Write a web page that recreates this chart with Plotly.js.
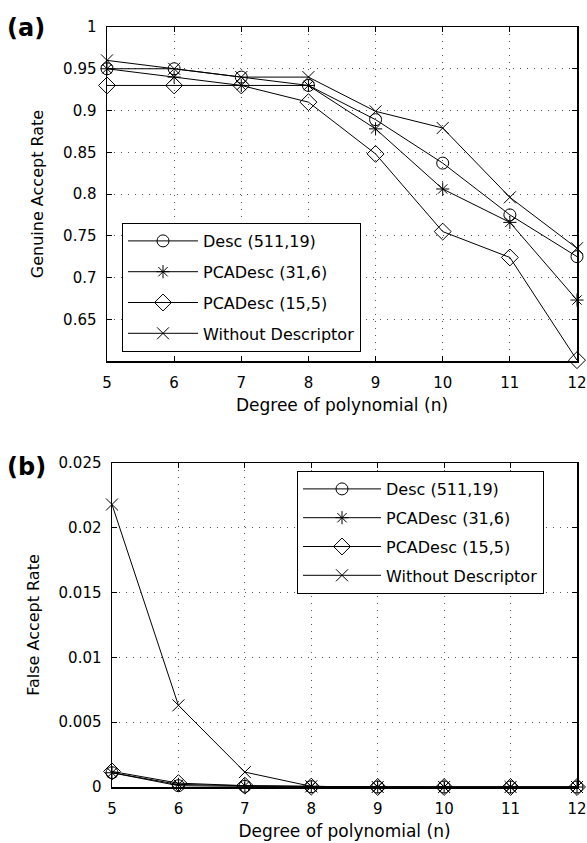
<!DOCTYPE html>
<html>
<head>
<meta charset="utf-8">
<script src="https://cdn.plot.ly/plotly-3.0.1.min.js"></script>
<style>html,body{margin:0;padding:0;background:#fff;}#chart{width:587px;height:843px;}</style>
</head>
<body>
<div id="chart"></div>
<script>
// ---- data ----
const degrees = [5, 6, 7, 8, 9, 10, 11, 12];
const seriesNames = ['Desc (511,19)', 'PCADesc (31,6)', 'PCADesc (15,5)', 'Without Descriptor'];

const garDesc    = [0.950, 0.950, 0.940, 0.930, 0.889, 0.837, 0.775, 0.725];
const garPCA31   = [0.950, 0.940, 0.930, 0.930, 0.878, 0.806, 0.766, 0.673];
const garPCA15   = [0.930, 0.930, 0.930, 0.910, 0.848, 0.755, 0.724, 0.601];
const garNone    = [0.960, 0.950, 0.940, 0.940, 0.899, 0.879, 0.796, 0.735];

const farDesc    = [0.0011, 0.0001, 0.00005, 0.00002, 0, 0, 0, 0];
const farPCA31   = [0.0011, 0.0002, 0.0001, 0.00003, 0, 0, 0, 0];
const farPCA15   = [0.0012, 0.0003, 0.0001, 0.00003, 0, 0, 0, 0];
const farNone    = [0.0218, 0.0063, 0.00115, 0.00005, 0, 0, 0, 0];

const garTickVals = [0.65, 0.7, 0.75, 0.8, 0.85, 0.9, 0.95, 1];
const garTickText = ['0.65', '0.7', '0.75', '0.8', '0.85', '0.9', '0.95', '1'];
const farTickVals = [0, 0.005, 0.01, 0.015, 0.02, 0.025];
const farTickText = ['0', '0.005', '0.01', '0.015', '0.02', '0.025'];
const xTickVals = [5, 6, 7, 8, 9, 10, 11, 12];

// ---- styles ----
const FONT = 'DejaVu Sans, Liberation Sans, Arial, sans-serif';
const symbols = ['circle-open', 'asterisk-open', 'diamond-open', 'x-thin-open'];
const sizes = [12, 11, 13, 12];

const garSeries = [garDesc, garPCA31, garPCA15, garNone];
const farSeries = [farDesc, farPCA31, farPCA15, farNone];

const traces = [];
garSeries.forEach((ys, i) => {
  traces.push({
    x: degrees, y: ys, name: seriesNames[i], type: 'scatter', mode: 'lines+markers',
    xaxis: 'x', yaxis: 'y', legend: 'legend', legendgroup: 'a' + i, cliponaxis: false,
    line: {color: '#000', width: 1},
    marker: {symbol: symbols[i], size: sizes[i], color: '#000', line: {color: '#000', width: 1}}
  });
});
farSeries.forEach((ys, i) => {
  traces.push({
    x: degrees, y: ys, name: seriesNames[i], type: 'scatter', mode: 'lines+markers',
    xaxis: 'x2', yaxis: 'y2', legend: 'legend2', legendgroup: 'b' + i, cliponaxis: false,
    line: {color: '#000', width: 1},
    marker: {symbol: symbols[i], size: sizes[i], color: '#000', line: {color: '#000', width: 1}}
  });
});

function xAxis(domain, anchor) {
  return {
    domain: domain, anchor: anchor, range: [5, 12], tickvals: xTickVals,
    showline: true, linecolor: '#000', linewidth: 1.5, mirror: 'ticks',
    ticks: 'inside', ticklen: 5, tickcolor: '#000',
    showgrid: true, gridcolor: '#555', gridwidth: 1, griddash: '1px,6px',
    zeroline: false, automargin: false, ticklabelstandoff: 7,
    tickfont: {family: FONT, size: 15, color: '#000'},
    title: {text: 'Degree of polynomial (n)', font: {family: FONT, size: 17, color: '#000'}, standoff: 8}
  };
}
function yAxis(domain, anchor, range, vals, text, title) {
  return {
    domain: domain, anchor: anchor, range: range, tickvals: vals, ticktext: text,
    showline: true, linecolor: '#000', linewidth: 1.5, mirror: 'ticks',
    ticks: 'inside', ticklen: 5, tickcolor: '#000',
    showgrid: true, gridcolor: '#555', gridwidth: 1, griddash: '1px,6px',
    zeroline: false, automargin: false, ticklabelstandoff: 6,
    tickfont: {family: FONT, size: 15, color: '#000'},
    title: {text: title, font: {family: FONT, size: 16, color: '#000'}, standoff: 15}
  };
}

const W = 587, H = 843;
const layout = {
  width: W, height: H,
  margin: {l: 0, r: 0, t: 0, b: 0},
  paper_bgcolor: '#fff', plot_bgcolor: '#fff',
  font: {family: FONT, color: '#000'},
  xaxis: xAxis([107 / W, 577 / W], 'y'),
  yaxis: yAxis([1 - 361 / H, 1 - 27 / H], 'x', [0.6, 1], garTickVals, garTickText, 'Genuine Accept Rate'),
  xaxis2: xAxis([112 / W, 577 / W], 'y2'),
  yaxis2: yAxis([1 - 787 / H, 1 - 463 / H], 'x2', [0, 0.025], farTickVals, farTickText, 'False Accept Rate'),
  legend: {
    x: 122 / W, y: 1 - 223 / H, xanchor: 'left', yanchor: 'top',
    bgcolor: '#fff', bordercolor: '#000', borderwidth: 1,
    font: {family: FONT, size: 16, color: '#000'},
    itemwidth: 70, tracegroupgap: 7, traceorder: 'grouped'
  },
  legend2: {
    x: 297 / W, y: 1 - 471 / H, xanchor: 'left', yanchor: 'top',
    bgcolor: '#fff', bordercolor: '#000', borderwidth: 1,
    font: {family: FONT, size: 16, color: '#000'},
    itemwidth: 78, tracegroupgap: 5, traceorder: 'grouped'
  },
  annotations: [
    {text: '<b>(a)</b>', xref: 'paper', yref: 'paper', x: 26 / W, y: 1 - 28 / H,
     xanchor: 'center', yanchor: 'middle', showarrow: false,
     font: {family: FONT, size: 24, color: '#000'}},
    {text: '<b>(b)</b>', xref: 'paper', yref: 'paper', x: 26 / W, y: 1 - 467 / H,
     xanchor: 'center', yanchor: 'middle', showarrow: false,
     font: {family: FONT, size: 24, color: '#000'}}
  ],
  showlegend: true
};

Plotly.newPlot('chart', traces, layout, {displayModeBar: false, staticPlot: true});
</script>
</body>
</html>
